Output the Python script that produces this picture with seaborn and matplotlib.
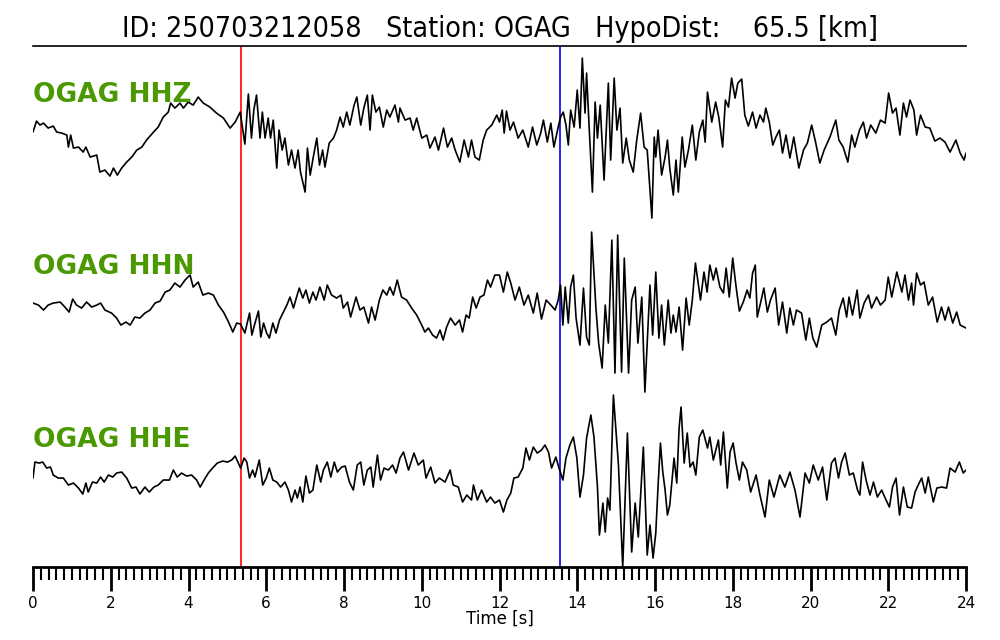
import numpy as np
import pandas as pd
import matplotlib
matplotlib.use("Agg")
import matplotlib.pyplot as plt
from matplotlib.ticker import MultipleLocator
import seaborn as sns

# ---------------- data (time [s], relative amplitude) ----------------
title_text = "ID: 250703212058   Station: OGAG   HypoDist:    65.5 [km]"
channels = ["OGAG HHZ", "OGAG HHN", "OGAG HHE"]
p_pick = 5.35
s_pick = 13.56

hhz_t = [0.0, 0.09, 0.18, 0.27, 0.39, 0.52, 0.61, 0.74, 0.87, 0.91, 0.97, 1.04, 1.17, 1.29, 1.36, 1.47,
         1.64, 1.72, 1.85, 1.98, 2.07, 2.17, 2.28, 2.41, 2.54, 2.67, 2.8, 2.92, 3.1, 3.22, 3.35, 3.48,
         3.54, 3.65, 3.78, 3.87, 3.99, 4.12, 4.25, 4.38, 4.55, 4.72, 4.9, 5.07, 5.2, 5.33, 5.45, 5.54,
         5.62, 5.68, 5.75, 5.84, 5.9, 5.97, 6.05, 6.11, 6.18, 6.27, 6.33, 6.41, 6.48, 6.57, 6.65, 6.74,
         6.82, 6.88, 7.0, 7.06, 7.13, 7.21, 7.3, 7.37, 7.45, 7.51, 7.62, 7.73, 7.81, 7.9, 7.98, 8.07,
         8.15, 8.26, 8.33, 8.43, 8.51, 8.6, 8.67, 8.73, 8.82, 8.91, 9.01, 9.1, 9.18, 9.31, 9.4, 9.44,
         9.57, 9.7, 9.78, 9.87, 10.0, 10.13, 10.21, 10.34, 10.43, 10.56, 10.66, 10.77, 10.86, 10.98,
         11.09, 11.2, 11.28, 11.37, 11.48, 11.58, 11.67, 11.8, 11.93, 12.0, 12.07, 12.12, 12.18, 12.27,
         12.36, 12.48, 12.6, 12.74, 12.85, 12.96, 13.06, 13.13, 13.23, 13.32, 13.4, 13.51, 13.57, 13.64,
         13.71, 13.77, 13.83, 13.92, 14.0, 14.07, 14.13, 14.2, 14.24, 14.31, 14.39, 14.46, 14.52, 14.59,
         14.69, 14.8, 14.86, 14.95, 15.02, 15.1, 15.17, 15.26, 15.34, 15.44, 15.53, 15.63, 15.72, 15.8,
         15.92, 15.98, 16.02, 16.08, 16.17, 16.26, 16.32, 16.38, 16.47, 16.54, 16.6, 16.7, 16.77, 16.86,
         16.96, 17.05, 17.14, 17.23, 17.29, 17.35, 17.46, 17.56, 17.64, 17.74, 17.81, 17.89, 17.97, 18.06,
         18.13, 18.23, 18.31, 18.4, 18.51, 18.6, 18.7, 18.79, 18.85, 18.94, 19.03, 19.11, 19.2, 19.28,
         19.37, 19.47, 19.57, 19.7, 19.82, 19.92, 20.03, 20.13, 20.24, 20.35, 20.5, 20.65, 20.73, 20.84,
         20.96, 21.06, 21.14, 21.26, 21.36, 21.44, 21.55, 21.68, 21.8, 21.92, 22.01, 22.11, 22.2, 22.3,
         22.39, 22.47, 22.56, 22.66, 22.73, 22.83, 22.95, 23.07, 23.2, 23.33, 23.46, 23.59, 23.74, 23.85,
         23.95, 24.0]
hhz_a = [3, 14, 10, 12, 7, 9, 3, 2, 0, -12, 0, -13, -12, -17, -12, -22,
         -20, -37, -35, -41, -33, -40, -33, -27, -22, -15, -12, -5, 3, 8, 18, 23,
         32, 27, 32, 27, 33, 30, 38, 32, 28, 22, 17, 7, 13, 23, -9, 41,
         -3, 25, 40, -3, 23, -3, 17, -3, 15, -33, 5, -15, -3, -30, -15, -33,
         -15, -37, -57, -13, -40, -22, -3, -30, -15, -32, -8, -3, 5, 18, 8, 23,
         10, 30, 38, 10, 27, 40, 5, 40, 23, 28, 8, 25, 18, 30, 13, 27,
         15, 17, 5, 17, -3, 0, -13, -2, -15, 7, -12, -3, -15, -27,
         -5, -22, -5, -22, -25, -5, 5, 10, 20, 13, 25, 2, 24, 5,
         13, -3, 5, -12, 8, -10, 2, 15, -7, 12, -12, 8, 18, 23,
         10, -10, 25, 8, 45, 7, 77, 22, 62, 5, -57, 33, -3, 30,
         -45, 52, -25, 57, 5, 27, -28, -3, -25, -37, -5, 22, -12, -15,
         -83, -2, -22, 5, -40, -22, -5, -33, -60, -25, -57, -2, -32, -15,
         10, -25, 3, 15, -7, 43, 13, 33, 18, -12, 35, 28, 57, 37,
         52, 56, 20, 9, 23, 7, 20, 13, 27, 13, -10, -2, 5, -18,
         0, -23, -2, -33, -15, -8, 10, -7, -28, -15, -2, 15, -5, -12,
         -27, 0, -12, 5, 13, -3, 10, 2, 15, 12, 42, 22, 27, 0,
         32, 18, 35, 25, 0, 20, 8, 7, -6, -3, -7, -17, -5, -18,
         -25, -18]

hhn_t = [0.0, 0.14, 0.27, 0.39, 0.52, 0.7, 0.82, 0.93, 1.02, 1.12, 1.25, 1.38, 1.51, 1.64, 1.74, 1.85,
         2.02, 2.15, 2.26, 2.39, 2.5, 2.62, 2.75, 2.88, 3.01, 3.14, 3.27, 3.4, 3.52, 3.65, 3.78, 3.91,
         4.04, 4.12, 4.25, 4.37, 4.51, 4.64, 4.77, 4.9, 5.03, 5.14, 5.24, 5.34, 5.45, 5.57, 5.63, 5.71,
         5.8, 5.86, 5.93, 6.01, 6.08, 6.17, 6.25, 6.34, 6.44, 6.53, 6.61, 6.7, 6.78, 6.85, 6.94, 7.02,
         7.11, 7.2, 7.28, 7.38, 7.49, 7.57, 7.68, 7.81, 7.92, 7.98, 8.09, 8.17, 8.31, 8.41, 8.51, 8.63,
         8.71, 8.8, 8.91, 9.0, 9.1, 9.18, 9.27, 9.37, 9.48, 9.61, 9.74, 9.87, 10.0, 10.08, 10.17, 10.28,
         10.38, 10.47, 10.55, 10.64, 10.74, 10.86, 10.97, 11.05, 11.14, 11.22, 11.31, 11.4, 11.5, 11.6,
         11.69, 11.77, 11.88, 12.0, 12.1, 12.2, 12.29, 12.4, 12.51, 12.63, 12.74, 12.87, 12.97, 13.08,
         13.2, 13.32, 13.43, 13.51, 13.57, 13.63, 13.69, 13.77, 13.83, 13.9, 13.97, 14.07, 14.16, 14.24,
         14.31, 14.37, 14.48, 14.55, 14.64, 14.72, 14.8, 14.89, 14.97, 15.04, 15.14, 15.21, 15.32, 15.4,
         15.49, 15.56, 15.66, 15.74, 15.87, 15.94, 16.02, 16.1, 16.17, 16.24, 16.34, 16.41, 16.47, 16.54,
         16.62, 16.71, 16.8, 16.88, 16.96, 17.04, 17.17, 17.26, 17.34, 17.41, 17.5, 17.57, 17.67, 17.76,
         17.83, 17.91, 18.0, 18.08, 18.17, 18.27, 18.37, 18.44, 18.51, 18.58, 18.63, 18.72, 18.8, 18.89,
         18.97, 19.09, 19.18, 19.28, 19.39, 19.47, 19.56, 19.64, 19.77, 19.88, 19.97, 20.06, 20.16, 20.29,
         20.42, 20.54, 20.65, 20.74, 20.84, 20.93, 20.99, 21.08, 21.2, 21.27, 21.38, 21.49, 21.57, 21.7,
         21.8, 21.92, 22.0, 22.09, 22.22, 22.35, 22.43, 22.52, 22.6, 22.65, 22.73, 22.83, 22.92, 23.03,
         23.14, 23.26, 23.37, 23.46, 23.55, 23.66, 23.76, 23.85, 24.0]
hhn_a = [2, 0, -5, 0, 2, 3, -2, -7, 6, 0, -3, 3, -2, 0, 2, -5,
         -8, -13, -20, -17, -20, -12, -13, -8, -5, 2, 4, 13, 15, 22, 18, 25,
         30, 18, 23, 10, 12, 10, 0, -7, -17, -27, -18, -19, -28, -8, -30, -18,
         -6, -32, -18, -28, -33, -18, -28, -15, -7, 0, 8, -3, 8, 17, 7, 15,
         2, 13, 5, 18, 5, 20, 10, 7, 10, -3, 3, -12, 8, -5, -2, -18,
         -2, -15, 5, 15, 10, 18, 10, 25, 8, 5, -3, -10, -20, -27, -23, -30,
         -33, -25, -35, -22, -13, -20, -15, -27, -10, -13, 8, -3, 8, 10,
         25, 18, 30, 30, 13, 33, 22, 5, 18, 0, 10, -8, 12, -14,
         5, 0, -5, 5, 20, -20, 18, -18, 18, 30, -13, -40, 17, -32,
         -40, 73, -3, -38, -63, 0, -38, 65, -68, 70, -67, 47, -68, 5,
         18, -38, 8, -87, 20, -30, 33, -33, 0, -40, 5, -28, -10, -27,
         -2, -45, 7, -20, 5, 42, 5, 33, 13, 40, 25, 37, 18, 12,
         37, 8, 47, 20, -6, 3, 15, 7, 32, 40, -12, 3, 17, -7,
         5, 17, -20, 3, -28, -3, -20, -5, -8, -35, -13, -33, -42, -20,
         -17, -13, -30, -5, 7, -12, 8, -10, 15, -13, 2, 10, -3, 8,
         0, 5, 28, 8, 33, 13, 30, 5, 22, 0, 32, 20, 23, 0,
         8, -17, -2, -15, -2, -18, -7, -20, -23]

hhe_t = [0.0, 0.05, 0.16, 0.25, 0.35, 0.45, 0.52, 0.65, 0.78, 0.91, 1.04, 1.17, 1.28, 1.36, 1.42, 1.53,
         1.64, 1.74, 1.83, 1.94, 2.05, 2.15, 2.28, 2.41, 2.54, 2.65, 2.75, 2.88, 2.99, 3.11, 3.22, 3.35,
         3.51, 3.61, 3.71, 3.82, 3.95, 4.08, 4.21, 4.3, 4.4, 4.51, 4.62, 4.74, 4.88, 5.0, 5.11, 5.2,
         5.28, 5.34, 5.43, 5.5, 5.57, 5.65, 5.71, 5.82, 5.91, 6.0, 6.08, 6.17, 6.27, 6.37, 6.48, 6.57,
         6.65, 6.74, 6.8, 6.87, 6.94, 7.02, 7.11, 7.2, 7.3, 7.4, 7.47, 7.57, 7.66, 7.75, 7.83, 7.94,
         8.03, 8.14, 8.24, 8.34, 8.43, 8.51, 8.6, 8.69, 8.75, 8.86, 8.94, 9.03, 9.14, 9.25, 9.34, 9.44,
         9.53, 9.66, 9.8, 9.91, 10.04, 10.11, 10.23, 10.34, 10.45, 10.6, 10.73, 10.81, 10.94, 11.05,
         11.16, 11.28, 11.33, 11.43, 11.54, 11.67, 11.77, 11.88, 12.0, 12.1, 12.19, 12.29, 12.37, 12.48,
         12.6, 12.68, 12.77, 12.87, 12.97, 13.08, 13.17, 13.26, 13.34, 13.45, 13.53, 13.63, 13.71, 13.81,
         13.9, 13.99, 14.07, 14.16, 14.24, 14.35, 14.43, 14.52, 14.57, 14.66, 14.72, 14.78, 14.84, 14.93,
         15.06, 15.17, 15.29, 15.4, 15.49, 15.57, 15.7, 15.8, 15.87, 15.95, 16.02, 16.08, 16.14, 16.2,
         16.26, 16.32, 16.38, 16.49, 16.56, 16.62, 16.67, 16.75, 16.83, 16.9, 16.98, 17.05, 17.14, 17.23,
         17.35, 17.41, 17.5, 17.63, 17.69, 17.76, 17.86, 17.93, 18.01, 18.08, 18.17, 18.25, 18.36, 18.46,
         18.6, 18.7, 18.83, 18.94, 19.06, 19.21, 19.34, 19.47, 19.6, 19.73, 19.86, 19.97, 20.07, 20.2,
         20.31, 20.42, 20.54, 20.63, 20.72, 20.8, 20.89, 21.0, 21.1, 21.21, 21.27, 21.34, 21.43, 21.53,
         21.62, 21.72, 21.83, 21.92, 22.03, 22.11, 22.2, 22.29, 22.39, 22.49, 22.6, 22.69, 22.77, 22.86,
         22.95, 23.03, 23.16, 23.25, 23.37, 23.5, 23.59, 23.72, 23.83, 23.93, 24.0]
hhe_a = [-8, 8, 7, 8, 2, 3, -5, -8, -8, -15, -13, -18, -24, -13, -22, -12,
         -13, -7, -12, -5, -7, -3, -2, -8, -18, -17, -24, -17, -22, -17, -15, -10,
         -10, 0, -7, -3, -6, -5, -10, -17, -10, -3, 2, 7, 9, 8, 10, 14,
         7, 2, 12, 8, -8, 0, -7, 10, -15, -8, 2, -10, -12, -17, -12, -20,
         -32, -20, -28, -17, -32, -6, -23, -20, 5, -12, 0, 8, -7, 8, -2, 3,
         4, -12, -20, 5, 8, -15, 0, 3, -17, 15, -10, 2, 0, 5, -3, 12,
         18, 0, 17, 5, 10, -8, 3, -13, -8, -12, 0, -15, -17, -32,
         -25, -30, -15, -30, -20, -32, -27, -33, -30, -42, -30, -23, -8, -7,
         2, 22, 10, 23, 17, 20, 25, 18, 2, 13, 2, -10, 12, 25,
         33, 12, -27, -5, 32, 55, 33, -17, -65, -33, -62, -28, -40, 75,
         5, -97, 37, -82, -33, -67, 23, -85, -55, -88, -63, -15, 27, -2,
         -20, -45, -35, 12, -13, 42, 63, 7, 37, 3, 8, -5, 33, 40,
         22, 33, 10, 30, 5, 38, -18, 18, 27, 8, -10, 8, 0, -22,
         -5, -25, -47, -10, -27, -5, -17, -2, -20, -47, -3, -13, 5, -10,
         3, -30, 7, 12, -8, 8, 17, -5, -3, -20, -25, 8, -10, -25,
         -12, -27, -20, -28, -37, -17, -8, -45, -17, -37, -38, -22, -15, -8,
         -23, -7, -32, -18, -17, -18, 2, -2, 8, -3, 0]

# ---------------- figure ----------------
sns.set_theme(style="ticks")
plt.rcParams["font.family"] = ["DejaVu Sans"]
plt.rcParams["text.color"] = "black"
plt.rcParams["axes.labelcolor"] = "black"
plt.rcParams["xtick.color"] = "black"
plt.rcParams["axes.edgecolor"] = "black"

fig = plt.figure(figsize=(10, 6.4), dpi=100)
ax = fig.add_axes([0.033, 0.114, 0.933, 0.814])

offsets = [432, 262, 97]
label_y = [465, 293, 120]
traces = [(hhz_t, hhz_a), (hhn_t, hhn_a), (hhe_t, hhe_a)]

for (tt, aa), off in zip(traces, offsets):
    df = pd.DataFrame({"t": tt, "a": np.asarray(aa, dtype=float) + off})
    sns.lineplot(data=df, x="t", y="a", ax=ax, color="black", linewidth=1.2,
                 sort=False, estimator=None)

for name, ly in zip(channels, label_y):
    ax.text(0, ly, name, color="#4a9900", fontsize=19, fontweight="bold",
            ha="left", va="baseline")

ax.axvline(p_pick, color="red", linewidth=1.2, zorder=0)
ax.axvline(s_pick, color="blue", linewidth=1.2, zorder=0)

ax.set_xlim(0, 24)
ax.set_ylim(0, 521)
ax.set_yticks([])
ax.set_ylabel("")
ax.xaxis.set_major_locator(MultipleLocator(2))
ax.xaxis.set_minor_locator(MultipleLocator(0.2))
ax.tick_params(axis="x", which="major", length=17, width=2, direction="out",
               labelsize=11, pad=4, colors="black")
ax.tick_params(axis="x", which="minor", length=9, width=1.5, direction="out",
               colors="black")
ax.set_xlabel("Time [s]", fontsize=12, labelpad=-1, color="black")

for side in ["left", "right"]:
    ax.spines[side].set_visible(False)
ax.spines["bottom"].set_linewidth(2)
ax.spines["top"].set_linewidth(1.2)

fig.text(0.5, 0.942, title_text, ha="center", va="baseline", fontsize=20.5,
         fontstretch="condensed", color="black")

fig.savefig("out.png", dpi=100, facecolor="white")
